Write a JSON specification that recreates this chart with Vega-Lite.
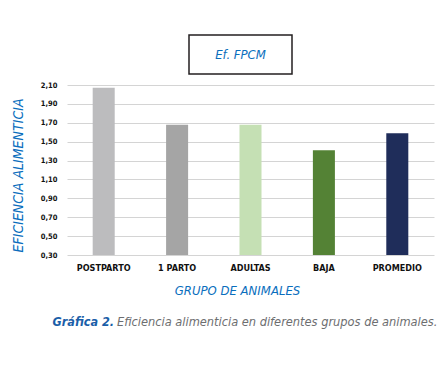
{
  "$schema": "https://vega.github.io/schema/vega-lite/v6.json",
  "background": "white",
  "padding": {"left": 11, "top": 34, "right": 5, "bottom": 5},
  "config": {"view": {"stroke": null}, "font": "DejaVu Sans Condensed, Liberation Sans Narrow, sans-serif"},
  "datasets": {
    "bars": [
      {"grupo": "POSTPARTO", "valor": 2.07},
      {"grupo": "1 PARTO", "valor": 1.68},
      {"grupo": "ADULTAS", "valor": 1.68},
      {"grupo": "BAJA", "valor": 1.41},
      {"grupo": "PROMEDIO", "valor": 1.59}
    ],
    "vacio": [{"t": ""}],
    "caja": [{"t": "Ef. FPCM"}],
    "pie": [
      {"parte": "a", "texto": "Gráfica 2."},
      {"parte": "b", "texto": "Eficiencia alimenticia en diferentes grupos de animales."}
    ]
  },
  "spacing": 6,
  "vconcat": [
    {
      "spacing": 0,
      "hconcat": [
        {
          "width": 121, "height": 39,
          "data": {"name": "vacio"},
          "mark": {"type": "text"},
          "encoding": {"text": {"field": "t"}}
        },
        {
          "width": 103, "height": 39,
          "view": {"stroke": "#231f20", "strokeWidth": 1.5},
          "data": {"name": "caja"},
          "mark": {"type": "text", "fontStyle": "italic", "fontSize": 13, "color": "#0a6ebd", "baseline": "middle"},
          "encoding": {"text": {"field": "t"}}
        }
      ]
    },
    {
      "width": 367, "height": 170,
      "data": {"name": "bars"},
      "mark": {"type": "bar"},
      "encoding": {
        "x": {
          "field": "grupo", "type": "nominal", "sort": null,
          "scale": {"paddingInner": 0.7, "paddingOuter": 0.35},
          "axis": {
            "title": "GRUPO DE ANIMALES", "labelAngle": 0, "ticks": false, "domain": false,
            "labelFontWeight": "bold", "labelFontSize": 9, "labelColor": "#111111", "labelPadding": 8,
            "titleFontStyle": "italic", "titleFontWeight": "normal", "titleFontSize": 13,
            "titleColor": "#0a6ebd", "titlePadding": 12, "titleX": 170
          }
        },
        "y": {
          "field": "valor", "type": "quantitative",
          "scale": {"domain": [0.3, 2.1], "nice": false, "zero": false},
          "axis": {
            "values": [0.3, 0.5, 0.7, 0.9, 1.1, 1.3, 1.5, 1.7, 1.9, 2.1],
            "labelExpr": "replace(format(datum.value, '.2f'), '.', ',')",
            "ticks": false, "domain": false, "gridColor": "#d4d4d4", "gridWidth": 1,
            "labelFontSize": 7.5, "labelFontWeight": "bold", "labelColor": "#111111", "labelPadding": 10,
            "title": "EFICIENCIA ALIMENTICIA", "titleFontStyle": "italic", "titleFontWeight": "normal",
            "titleFontSize": 14, "titleColor": "#0a6ebd", "titlePadding": 15, "titleY": 90
          }
        },
        "y2": {"datum": 0.3},
        "color": {
          "field": "grupo", "type": "nominal",
          "scale": {
            "domain": ["POSTPARTO", "1 PARTO", "ADULTAS", "BAJA", "PROMEDIO"],
            "range": ["#bcbcbe", "#a5a5a5", "#c5e0b4", "#548235", "#1f2d5a"]
          },
          "legend": null
        }
      }
    },
    {
      "width": 94, "height": 38,
      "data": {"name": "pie"},
      "layer": [
        {
          "transform": [{"filter": "datum.parte == 'a'"}],
          "mark": {"type": "text", "align": "right", "fontStyle": "italic", "fontWeight": "bold", "fontSize": 12.5, "color": "#1a5ea8"},
          "encoding": {"text": {"field": "texto"}}
        },
        {
          "transform": [{"filter": "datum.parte == 'b'"}],
          "mark": {"type": "text", "align": "left", "dx": 3, "fontStyle": "italic", "fontSize": 12.7, "color": "#6d6e70"},
          "encoding": {"text": {"field": "texto"}}
        }
      ]
    }
  ]
}
